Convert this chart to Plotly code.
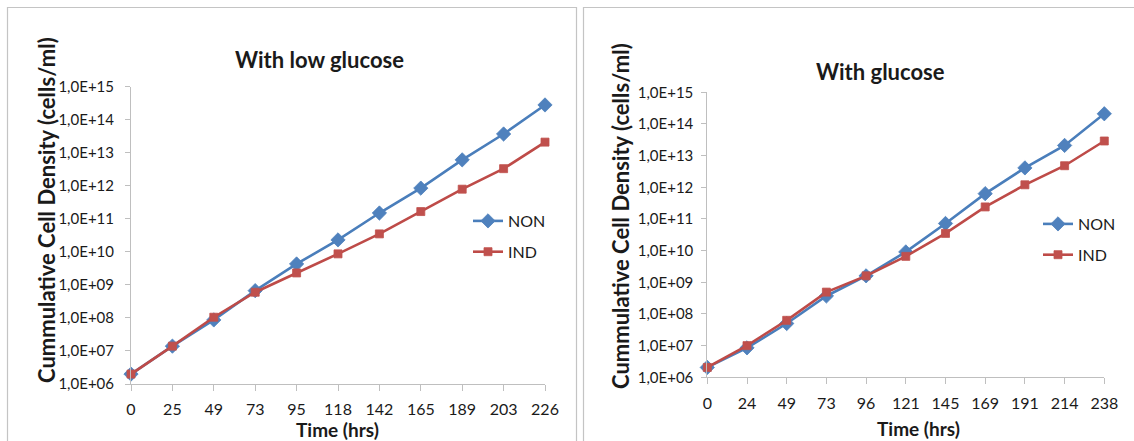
import plotly.graph_objects as go

# Sampling times (hours) shown as category labels
low_times = ["0", "25", "49", "73", "95", "118", "142", "165", "189", "203", "226"]
glu_times = ["0", "24", "49", "73", "96", "121", "145", "169", "191", "214", "238"]

# Cumulative cell density (cells/ml), low-glucose medium
low_non = [2.0e6, 1.4e7, 8.7e7, 6.7e8, 4.3e9, 2.3e10, 1.5e11, 8.5e11, 6.1e12, 3.7e13, 2.8e14]
low_ind = [2.0e6, 1.4e7, 1.05e8, 6.0e8, 2.3e9, 8.7e9, 3.5e10, 1.66e11, 7.9e11, 3.3e12, 2.1e13]

# Cumulative cell density (cells/ml), glucose medium
glu_non = [2.05e6, 8.5e6, 5.0e7, 3.7e8, 1.6e9, 9.1e9, 7.2e10, 6.3e11, 4.1e12, 2.1e13, 2.1e14]
glu_ind = [2.05e6, 1.0e7, 6.3e7, 4.9e8, 1.6e9, 6.6e9, 3.5e10, 2.4e11, 1.2e12, 4.8e12, 2.9e13]

# Log-axis tick labels
y_exponents = list(range(6, 16))
y_tickvals = [10.0 ** k for k in y_exponents]
y_ticktext = ["1,0E+%02d" % k for k in y_exponents]

W, H = 1134, 441
def px(x):
    return x / W
def py(y):
    return 1 - y / H

FONT = "Lato, sans-serif"
TXT = "#1a1a1a"
AXC = "#bfbfbf"
BLUE_L, BLUE_M = "#4a7ebb", "#4f81bd"
RED_L, RED_M = "#be4b48", "#c0504d"

fig = go.Figure()

def add_series(x, y, name, line_c, marker_c, symbol, size, xa, ya, leg):
    fig.add_trace(go.Scatter(
        x=x, y=y, name=name, mode="lines+markers",
        line=dict(color=line_c, width=2.6),
        marker=dict(symbol=symbol, size=size, color=marker_c,
                    line=dict(width=0.8, color=marker_c)),
        xaxis=xa, yaxis=ya, legend=leg, legendgroup=leg + name,
        cliponaxis=False,
    ))

add_series(low_times, low_non, "NON", BLUE_L, BLUE_M, "diamond", 11, "x", "y", "legend")
add_series(low_times, low_ind, "IND", RED_L, RED_M, "square", 8, "x", "y", "legend")
add_series(glu_times, glu_non, "NON", BLUE_L, BLUE_M, "diamond", 11, "x2", "y2", "legend2")
add_series(glu_times, glu_ind, "IND", RED_L, RED_M, "square", 8, "x2", "y2", "legend2")

def xaxis(domain, anchor):
    return dict(domain=domain, anchor=anchor, type="category", range=[0, 10],
                showline=True, linecolor=AXC, linewidth=1,
                ticks="outside", ticklen=6, tickcolor=AXC, tickwidth=1,
                showgrid=False, zeroline=False, automargin=False,
                tickfont=dict(family=FONT, size=16, color=TXT),
                ticklabelstandoff=5)

def yaxis(domain, anchor, standoff):
    return dict(domain=domain, anchor=anchor, type="log", range=[6, 15],
                tickvals=y_tickvals, ticktext=y_ticktext,
                showline=True, linecolor=AXC, linewidth=1,
                ticks="outside", ticklen=5, tickcolor=AXC, tickwidth=1,
                showgrid=False, zeroline=False, automargin=False,
                tickfont=dict(family=FONT, size=15, color=TXT),
                ticklabelstandoff=standoff)

legend_common = dict(font=dict(family=FONT, size=16, color=TXT),
                     bgcolor="rgba(0,0,0,0)", tracegroupgap=7,
                     itemwidth=30, xanchor="left", yanchor="top",
                     traceorder="grouped")

fig.update_layout(
    width=W, height=H, autosize=False,
    margin=dict(l=0, r=0, t=0, b=0),
    paper_bgcolor="white", plot_bgcolor="white",
    xaxis=xaxis([px(131), px(545)], "y"),
    yaxis=yaxis([py(384), py(86.7)], "x", 8),
    xaxis2=xaxis([px(707.3), px(1104.3)], "y2"),
    yaxis2=yaxis([py(377.3), py(92.3)], "x2", 5),
    legend=dict(x=px(468), y=py(204), **legend_common),
    legend2=dict(x=px(1038), y=py(207), **legend_common),
    showlegend=True,
)

# Panel frames
fig.add_shape(type="rect", xref="paper", yref="paper",
              x0=px(7.5), x1=px(576.5), y0=py(460), y1=py(7.5),
              line=dict(color="#c4c4c4", width=1.2), layer="below")
fig.add_shape(type="rect", xref="paper", yref="paper",
              x0=px(583.5), x1=px(1140), y0=py(460), y1=py(7.5),
              line=dict(color="#c4c4c4", width=1.2), layer="below")

def label(text, x, y, size, angle=0):
    fig.add_annotation(text=text, xref="paper", yref="paper",
                       x=px(x), y=py(y), xanchor="center", yanchor="middle",
                       showarrow=False, textangle=angle,
                       font=dict(family=FONT, size=size, color=TXT, weight="bold"))

label("With low glucose", 319, 59, 22)
label("With glucose", 880, 71, 22)
label("Cummulative Cell Density (cells/ml)", 46, 210, 22, -90)
label("Cummulative Cell Density (cells/ml)", 620, 216, 22, -90)
label("Time (hrs)", 337, 429, 19)
label("Time (hrs)", 918, 428, 19)

# Page body without default margins so the figure fills the window exactly
fig.write_html("out.html",
               post_script="document.body.style.margin='0';"
                           "document.body.style.overflow='hidden';")
